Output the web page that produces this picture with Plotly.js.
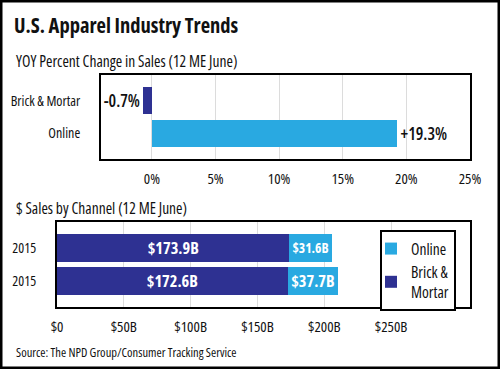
<!DOCTYPE html>
<html>
<head>
<meta charset="utf-8">
<script src="https://cdn.plot.ly/plotly-3.0.1.min.js"></script>
<style>
html,body{margin:0;padding:0;background:#fff;}
#chart{width:500px;height:369px;}
svg text{font-stretch:condensed !important;}
</style>
</head>
<body>
<div id="chart"></div>
<script>
// ---- data ----
const yoyCategories = ['Brick & Mortar', 'Online'];
const yoyValues = [-0.7, 19.3];
const yoyTickVals = [0, 5, 10, 15, 20, 25];
const yoyTickText = ['0%', '5%', '10%', '15%', '20%', '25%'];

const salesYears = ['2015', '2015'];
const salesBrick = [173.9, 172.6];
const salesOnline = [31.6, 37.7];
const salesTickVals = [0, 50, 100, 150, 200, 250];
const salesTickText = ['$0', '$50B', '$100B', '$150B', '$200B', '$250B'];

// ---- styles ----
const FONT = '"Open Sans", "Roboto Condensed", sans-serif';
const C_ONLINE = '#29a9e1';
const C_BRICK = '#2e3192';
const INK = '#111';
const yoyColors = [C_BRICK, C_ONLINE];

const yoyIdx = yoyCategories.map((_, i) => i);
const salesIdx = salesYears.map((_, i) => i);

const traces = [
  {
    type: 'bar', orientation: 'h',
    x: yoyValues, y: yoyIdx,
    xaxis: 'x', yaxis: 'y',
    marker: {color: yoyColors},
    width: 0.83,
    text: yoyValues.map(v => (v > 0 ? '+' : '') + v.toFixed(1) + '%'),
    textposition: 'outside',
    textfont: {family: FONT, size: 17, color: INK, weight: 600},
    cliponaxis: false,
    showlegend: false,
    hoverinfo: 'none'
  },
  {
    type: 'bar', orientation: 'h', name: 'Brick &<br>Mortar',
    x: salesBrick, y: salesIdx,
    xaxis: 'x2', yaxis: 'y2',
    marker: {color: C_BRICK},
    width: 0.86,
    texttemplate: '$%{x:.1f}B',
    textposition: 'inside', insidetextanchor: 'middle',
    insidetextfont: {family: FONT, size: 17, color: '#fff', weight: 700},
    hoverinfo: 'none'
  },
  {
    type: 'bar', orientation: 'h', name: 'Online',
    x: salesOnline, y: salesIdx,
    xaxis: 'x2', yaxis: 'y2',
    marker: {color: C_ONLINE},
    width: 0.86,
    texttemplate: '$%{x:.1f}B',
    textposition: 'inside', insidetextanchor: 'middle',
    insidetextfont: {family: FONT, size: 17, color: '#fff', weight: 700},
    hoverinfo: 'none'
  }
];

const axisFrame = {showline: true, mirror: true, linecolor: '#000', linewidth: 2};

const layout = {
  width: 500, height: 369,
  margin: {l: 0, r: 0, t: 0, b: 0},
  paper_bgcolor: '#fff', plot_bgcolor: '#fff',
  font: {family: FONT, color: INK, size: 14, weight: 500},
  barmode: 'stack',
  title: {
    text: 'U.S. Apparel Industry Trends',
    font: {family: FONT, size: 20.5, color: INK, weight: 700},
    xref: 'container', yref: 'container',
    x: 14 / 500, xanchor: 'left',
    y: 1 - 26 / 369, yanchor: 'middle'
  },
  xaxis: Object.assign({
    domain: [101 / 500, 470 / 500], anchor: 'y',
    range: [-4, 25], tickvals: yoyTickVals, ticktext: yoyTickText,
    showgrid: true, gridcolor: '#dcdcdc', gridwidth: 1, zeroline: false,
    ticks: 'outside', ticklen: 5, tickcolor: 'rgba(0,0,0,0)',
    tickfont: {size: 15, weight: 500}
  }, axisFrame),
  yaxis: Object.assign({
    domain: [1 - 159 / 369, 1 - 75 / 369], anchor: 'x',
    range: [1.79, -0.79], tickvals: yoyIdx, ticktext: yoyCategories,
    showgrid: false, zeroline: false,
    ticks: 'outside', ticklen: 16, tickcolor: 'rgba(0,0,0,0)',
    tickfont: {size: 14, weight: 500}
  }, axisFrame),
  xaxis2: Object.assign({
    domain: [57 / 500, 470 / 500], anchor: 'y2',
    range: [0, 309], tickvals: salesTickVals, ticktext: salesTickText,
    showgrid: true, gridcolor: '#dcdcdc', gridwidth: 1, zeroline: false,
    ticks: 'outside', ticklen: 5, tickcolor: 'rgba(0,0,0,0)',
    tickfont: {size: 15, weight: 500}
  }, axisFrame),
  yaxis2: Object.assign({
    domain: [1 - 307 / 369, 1 - 222 / 369], anchor: 'x2',
    range: [1.8, -0.8], tickvals: salesIdx, ticktext: salesYears,
    showgrid: false, zeroline: false,
    ticks: 'outside', ticklen: 16, tickcolor: 'rgba(0,0,0,0)',
    tickfont: {size: 14, weight: 500}
  }, axisFrame),
  legend: {
    x: 380 / 500, xanchor: 'left',
    y: 1 - 230 / 369, yanchor: 'top',
    bgcolor: '#fff', bordercolor: '#000', borderwidth: 2,
    traceorder: 'reversed',
    font: {family: FONT, size: 15.5, color: INK, weight: 500},
    itemwidth: 30, tracegroupgap: 0, indentation: -11
  },
  annotations: [
    {text: 'YOY Percent Change in Sales (12 ME June)', xref: 'paper', yref: 'paper',
     x: 14 / 500, y: 1 - 61 / 369, xanchor: 'left', yanchor: 'middle', showarrow: false,
     font: {family: FONT, size: 15.5, color: INK, weight: 500}},
    {text: '$ Sales by Channel (12 ME June)', xref: 'paper', yref: 'paper',
     x: 14 / 500, y: 1 - 208 / 369, xanchor: 'left', yanchor: 'middle', showarrow: false,
     font: {family: FONT, size: 15.5, color: INK, weight: 500}},
    {text: 'Source: The NPD Group/Consumer Tracking Service', xref: 'paper', yref: 'paper',
     x: 14 / 500, y: 1 - 352 / 369, xanchor: 'left', yanchor: 'middle', showarrow: false,
     font: {family: FONT, size: 12.5, color: INK, weight: 500}}
  ],
  shapes: [
    {type: 'rect', xref: 'paper', yref: 'paper', x0: 0, x1: 1, y0: 0, y1: 1,
     line: {color: '#000', width: 5}, fillcolor: 'rgba(0,0,0,0)', layer: 'above'}
  ]
};

Plotly.newPlot('chart', traces, layout, {staticPlot: true, displayModeBar: false});
</script>
</body>
</html>
